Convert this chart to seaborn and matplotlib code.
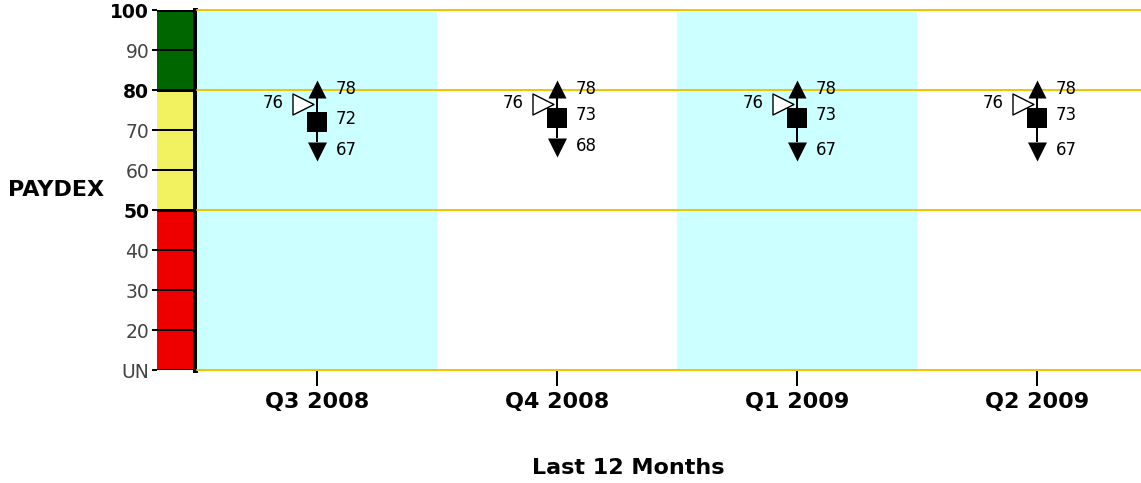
import numpy as np
import pandas as pd
import matplotlib
matplotlib.use("Agg")
import matplotlib.pyplot as plt
import seaborn as sns
from matplotlib.path import Path
from matplotlib.transforms import ScaledTranslation

# chart data
quarters = ["Q3 2008", "Q4 2008", "Q1 2009", "Q2 2009"]
high = [78, 78, 78, 78]
avg = [72, 73, 73, 73]
low = [67, 68, 67, 67]
industry = [76, 76, 76, 76]

score_ticks = [100, 90, 80, 70, 60, 50, 40, 30, 20, 10]
score_labels = ["100", "90", "80", "70", "60", "50", "40", "30", "20", "UN"]
bold_ticks = [100, 80, 50]
zones = [(10, 50, "#ee0000"), (50, 80, "#f2f261"), (80, 100, "#006600")]
shaded = ["Q3 2008", "Q1 2009"]

df = pd.DataFrame({"quarter": quarters, "high": high, "avg": avg,
                   "low": low, "industry": industry})
df["pos"] = np.arange(len(df))

sns.set_style("white")
plt.rcParams["font.family"] = ["DejaVu Sans"]
plt.rcParams["text.color"] = "black"
plt.rcParams["axes.labelcolor"] = "black"
plt.rcParams["xtick.color"] = "black"
plt.rcParams["ytick.color"] = "black"

W, H = 1141, 483
fig = plt.figure(figsize=(W / 100, H / 100), dpi=100)
px = 72 / 100  # pixels -> points

# colour scale bar on the left
cax = fig.add_axes([157 / W, 113 / H, 37.5 / W, 360 / H])
for lo, hi, c in zones:
    cax.axhspan(lo, hi, color=c, lw=0)
for t in score_ticks:
    cax.axhline(t, color="black", lw=(3 if t in bold_ticks else 2) * px)
cax.set_xlim(0, 1)
cax.set_ylim(10, 100)
cax.set_xticks([])
cax.set_yticks(score_ticks)
cax.set_yticklabels(score_labels)
cax.tick_params(axis="y", length=5 * px, width=2 * px, pad=2, labelsize=13.5,
                labelcolor="#444444", left=True)
for lab, t in zip(cax.get_yticklabels(), score_ticks):
    if t in bold_ticks:
        lab.set_fontweight("bold")
        lab.set_color("black")
for s in ["top", "bottom", "left"]:
    cax.spines[s].set_visible(False)
cax.spines["right"].set_linewidth(5 * px)
cax.spines["right"].set_color("black")
cax.set_ylabel("PAYDEX", rotation=0, fontsize=16, fontweight="bold",
               va="center", ha="left")
cax.yaxis.set_label_coords(-149 / 37.5, 0.5)

# main plot area
ax = fig.add_axes([197 / W, 113 / H, 944 / W, 360 / H])
for q in shaded:
    i = quarters.index(q)
    ax.axvspan(i - 0.5, i + 0.5, color="#ccffff", lw=0)
for t in bold_ticks + [10]:
    ax.axhline(t, color="#f5c400", lw=2 * px, clip_on=False, zorder=1)

ax.vlines(df["pos"], df["low"], df["high"], color="black", lw=2 * px, zorder=3)

up_tri = Path([(-1, 0), (1, 0), (0, 2), (-1, 0)],
              [Path.MOVETO, Path.LINETO, Path.LINETO, Path.CLOSEPOLY])
down_tri = Path([(-1, 0), (1, 0), (0, -2), (-1, 0)],
                [Path.MOVETO, Path.LINETO, Path.LINETO, Path.CLOSEPOLY])

sns.scatterplot(data=df, x="pos", y="high", marker=up_tri, s=(36 * px) ** 2,
                color="black", edgecolor="black", linewidth=0, ax=ax, zorder=4)
sns.scatterplot(data=df, x="pos", y="low", marker=down_tri, s=(38 * px) ** 2,
                color="black", edgecolor="black", linewidth=0, ax=ax, zorder=4)
sns.scatterplot(data=df, x="pos", y="avg", marker="s", s=(20 * px) ** 2,
                color="black", edgecolor="black", linewidth=0, ax=ax, zorder=5)
shift = ax.transData + ScaledTranslation(-14 / 100, 2 / 100, fig.dpi_scale_trans)
sns.scatterplot(data=df, x="pos", y="industry", marker=">", s=(21 * px) ** 2,
                facecolor="white", edgecolor="black", linewidth=1,
                transform=shift, ax=ax, zorder=6)

for _, r in df.iterrows():
    kw = dict(textcoords="offset pixels", fontsize=12, va="center", zorder=7)
    ax.annotate(f"{r['high']}", (r["pos"], r["high"]), xytext=(19, 9), ha="left", **kw)
    ax.annotate(f"{r['avg']}", (r["pos"], r["avg"]), xytext=(19, 3), ha="left", **kw)
    ax.annotate(f"{r['low']}", (r["pos"], r["low"]), xytext=(19, -8), ha="left", **kw)
    ax.annotate(f"{r['industry']}", (r["pos"], r["industry"]), xytext=(-33, 3),
                ha="right", **kw)

ax.set_xlim(-0.5, -0.5 + 944 / 240)
ax.set_ylim(10, 100)
ax.set_yticks([])
ax.set_xticks(df["pos"])
ax.set_xticklabels(quarters, fontsize=16, fontweight="bold")
ax.tick_params(axis="x", length=16 * px, width=2 * px, pad=4, bottom=True,
               color="black")
for s in ["top", "right", "bottom", "left"]:
    ax.spines[s].set_visible(False)
ax.set_xlabel("Last 12 Months", fontsize=16, fontweight="bold")
ax.xaxis.set_label_coords(431 / 944, -0.245)
ax.set_ylabel("")

fig.savefig("out.png", dpi=100)
